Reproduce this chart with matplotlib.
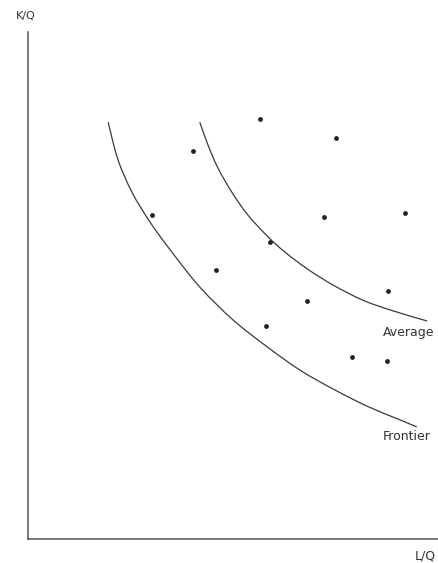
import numpy as np
import matplotlib
matplotlib.use("Agg")
import matplotlib.pyplot as plt
from matplotlib.path import Path
from matplotlib.patches import PathPatch

# Unit isoquants: best-practice frontier and industry average
frontier_x = [1.95, 2.19, 2.53, 2.97, 3.50, 4.18, 4.99, 5.82, 6.62, 7.42, 8.25, 9.05, 9.46]
frontier_y = [8.22, 7.48, 6.84, 6.25, 5.66, 4.97, 4.32, 3.79, 3.33, 2.96, 2.62, 2.35, 2.21]

average_x = [4.18, 4.38, 4.62, 4.96, 5.35, 5.84, 6.25, 6.79, 7.42, 8.15, 8.88, 9.71]
average_y = [8.22, 7.77, 7.32, 6.84, 6.39, 5.96, 5.66, 5.33, 5.01, 4.71, 4.50, 4.30]

# Individual firms (labour and capital per unit of output)
firm_lq = [5.64, 7.49, 4.01, 3.02, 7.20, 9.17, 5.89, 4.57, 8.76, 6.79, 5.79, 7.88, 8.73]
firm_kq = [8.28, 7.91, 7.65, 6.39, 6.35, 6.43, 5.86, 5.31, 4.89, 4.69, 4.20, 3.59, 3.51]


def smooth_path(xs, ys):
    """Bezier path through the given points (Catmull-Rom tangents)."""
    p = np.column_stack([xs, ys])
    pad = np.vstack([p[0], p, p[-1]])
    verts = [p[0]]
    codes = [Path.MOVETO]
    for i in range(len(p) - 1):
        a, b, c, d = pad[i], pad[i + 1], pad[i + 2], pad[i + 3]
        verts += [b + (c - a) / 6, c - (d - b) / 6, c]
        codes += [Path.CURVE4] * 3
    return Path(verts, codes)


W, H = 439, 563
fig = plt.figure(figsize=(W / 100, H / 100), dpi=100)
ax = fig.add_axes([28 / W, (H - 539) / H, (W - 28) / W, (539 - 32) / H])

line_col = "#3a3a3a"
for xs, ys in ((frontier_x, frontier_y), (average_x, average_y)):
    ax.add_patch(PathPatch(smooth_path(xs, ys), facecolor="none",
                           edgecolor=line_col, lw=0.9))
ax.scatter(firm_lq, firm_kq, s=6, color="#222222", zorder=3)

ax.text(8.64, 4.08, "Average", ha="left", va="center", fontsize=9, color="#333333")
ax.text(8.64, 2.03, "Frontier", ha="left", va="center", fontsize=9, color="#333333")

ax.set_xlim(0, 10)
ax.set_ylim(0, 10)
ax.set_xticks([])
ax.set_yticks([])
for side in ("top", "right"):
    ax.spines[side].set_visible(False)
for side in ("left", "bottom"):
    ax.spines[side].set_color("#555555")
    ax.spines[side].set_linewidth(1.1)

fig.text(26 / W, 1 - 16 / H, "K/Q", ha="center", va="center", fontsize=8, color="#333333")
fig.text(415 / W, 1 - 556 / H, "L/Q", ha="left", va="center", fontsize=9, color="#333333")

fig.savefig("out.png", dpi=100)
